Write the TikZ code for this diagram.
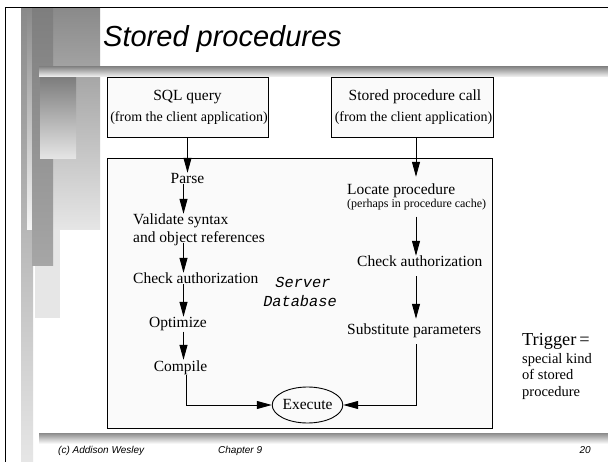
\documentclass[tikz,border=0pt]{standalone}
\usepackage{fontspec}
\setmainfont{Liberation Serif}
\newfontfamily\arialfont{Liberation Sans}
\newfontfamily\courfont{Liberation Mono}
\usetikzlibrary{arrows.meta,shapes.geometric}

\definecolor{decoDark}{HTML}{8A8A8A}
\definecolor{decoDeep}{HTML}{7E7E7E}
\definecolor{decoMid}{HTML}{A6A6A6}
\definecolor{decoLight}{HTML}{E6E6E6}
\definecolor{decoPale}{HTML}{F6F6F6}
\definecolor{panelFill}{HTML}{FAFAFA}

\begin{document}
\begin{tikzpicture}[x=1pt,y=-1pt,
  flow/.style={font=\fontsize{15.5}{18}\selectfont, inner sep=0pt, text height=11pt, text depth=3.5pt},
  subnote/.style={font=\fontsize{14}{16}\selectfont, inner sep=0pt},
  cachenote/.style={font=\fontsize{12}{14}\selectfont, inner sep=0pt, text height=9pt, text depth=3pt},
  sidenote/.style={font=\fontsize{14.5}{16}\selectfont, inner sep=0pt},
  monolabel/.style={font=\courfont\itshape\fontsize{15.3}{18}\selectfont, inner sep=0pt},
  footer/.style={font=\arialfont\itshape\fontsize{10}{12}\selectfont, inner sep=0pt},
  callbox/.style={draw, line width=0.9pt, fill=panelFill, minimum width=161pt, minimum height=60pt, inner sep=0pt},
  arr/.style={line width=0.9pt, -{Triangle[length=15pt,width=8pt]}},
  bar/.style={top color=decoDark, bottom color=decoPale, draw=none}
]
\useasboundingbox (0,0) rectangle (608,462);
\fill[white] (0,0) rectangle (608,462);

% decorative panel on the left
\shade[top color=decoDark, bottom color=decoLight] (21,8) rectangle (33,462);
\fill[decoLight] (35,230) rectangle (60,318);
\shade[top color=decoDark, bottom color=decoLight] (53,8) rectangle (100,230);
\shade[top color=decoDark, bottom color=decoPale] (27,8) rectangle (32,230);
\shade[top color=decoDeep, bottom color=decoMid] (32,8) rectangle (53,266);
\shade[top color=decoDeep, bottom color=decoLight] (40,78) rectangle (76,159);

% slide frame
\draw[line width=1.8pt] (5.5,462) |- (608,7.5);

% title and footer rules
\shade[bar] (39,67) rectangle (608,77);
\shade[bar] (39,433) rectangle (608,443);

% title
\node[font=\arialfont\itshape\fontsize{29}{32}\selectfont, inner sep=0pt, anchor=base west] (title) at (103,47) {Stored procedures};

% client requests
\node[callbox] (sqlbox) at (187.5,107) {};
\node[callbox, minimum width=162pt] (spbox) at (412,107) {};
\node[flow, anchor=base] (sqlt) at (187.5,101) {SQL query};
\node[subnote, anchor=base] (sqlsub) at (189,122) {(from the client application)};
\node[flow, anchor=base] (spt) at (415,101) {Stored procedure call};
\node[subnote, anchor=base] (spsub) at (413.5,122) {(from the client application)};

% server panel
\node[draw, line width=0.9pt, fill=panelFill, minimum width=385pt, minimum height=270pt, inner sep=0pt] (server) at (299.5,293) {};
\node[monolabel, anchor=base] (srv) at (303,288) {Server};
\node[monolabel, anchor=base] (db) at (300,307) {Database};

% SQL query path
\node[flow, anchor=base] (parse) at (187.5,184) {Parse};
\node[flow, anchor=base west] (valid1) at (133,225) {Validate syntax};
\node[flow, anchor=base west] (valid2) at (133,243) {and object references};
\node[flow, anchor=base west] (checkL) at (133,284) {Check authorization};
\node[flow, anchor=base] (opt) at (178,328) {Optimize};
\node[flow, anchor=base] (comp) at (180.5,371) {Compile};

% stored procedure path
\node[flow, anchor=base west] (loc) at (347,195) {Locate procedure};
\node[cachenote, anchor=base west] (cache) at (347,208) {(perhaps in procedure cache)};
\node[flow, anchor=base west] (checkR) at (357,267) {Check authorization};
\node[flow, anchor=base west] (subst) at (347,335) {Substitute parameters};

% common end point
\node[ellipse, draw, line width=0.9pt, fill=panelFill, minimum width=65pt, minimum height=36pt, inner sep=0pt,
      font=\fontsize{15.5}{18}\selectfont] (exec) at (307.5,405) {Execute};

% column positions of the flow lines
\coordinate (colL) at (183.5,0);
\coordinate (colC) at (186,0);
\coordinate (colR) at (416,0);

\draw[arr] (sqlbox.south) -- (parse.north);
\draw[arr] (parse.base -| colL) -- (valid1.north -| colL);
\draw[arr] (valid2.base -| colL) -- (checkL.north -| colL);
\draw[arr] (checkL.base -| colL) -- (opt.north -| colL);
\draw[arr] (opt.south -| colL) -- (comp.north -| colL);
\draw[arr] (comp.south -| colC) |- (exec.west);

\draw[arr, shorten >=7pt] (spbox.south -| colR) -- (loc.north -| colR);
\draw[arr, shorten <=5.5pt] (cache.south -| colR) -- (checkR.north -| colR);
\draw[arr, shorten <=5.5pt, shorten >=5pt] (checkR.south -| colR) -- (subst.north -| colR);
\draw[arr, shorten <=5.5pt] (subst.south -| colR) |- (exec.east);

% side remark
\node[font=\fontsize{18.3}{20}\selectfont, inner sep=0pt, anchor=base west] (trig) at (522,346) {Trigger\,=};
\node[sidenote, anchor=base west] (trig2) at (522,363) {special kind};
\node[sidenote, anchor=base west] (trig3) at (522,379) {of stored};
\node[sidenote, anchor=base west] (trig4) at (522,396) {procedure};

% footer
\node[footer, anchor=base west] (fleft) at (58,453) {(c) Addison Wesley};
\node[footer, anchor=base west] (fmid) at (218,453) {Chapter 9};
\node[footer, anchor=base east] (fright) at (591,453) {20};
\end{tikzpicture}
\end{document}
